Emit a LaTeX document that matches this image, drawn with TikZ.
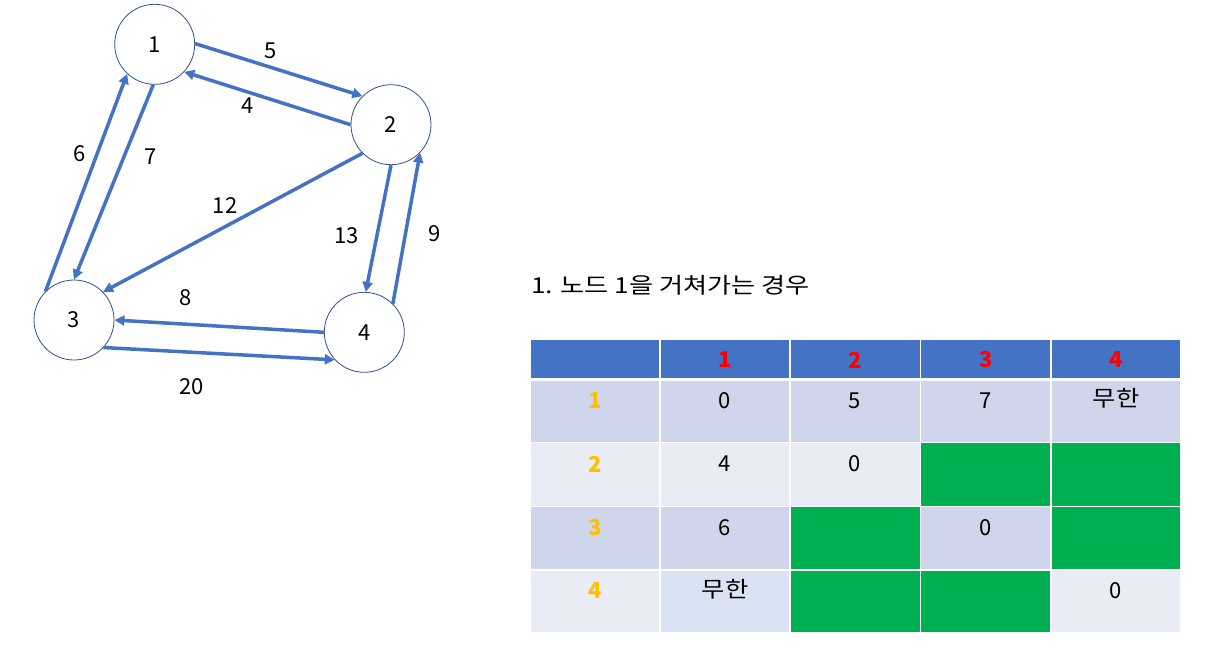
\documentclass[tikz,border=0pt]{standalone}
\usepackage{fontspec}
\setmainfont{Noto Sans CJK KR}
\usetikzlibrary{arrows.meta}
\definecolor{arrowblue}{HTML}{4472C4}
\definecolor{circleblue}{HTML}{2F528F}
\definecolor{hdrblue}{HTML}{4472C4}
\definecolor{rowdark}{HTML}{CFD5EA}
\definecolor{rowlight}{HTML}{E9EBF5}
\definecolor{cellpale}{HTML}{DAE3F3}
\definecolor{cellgreen}{HTML}{00B050}
\definecolor{hdrred}{HTML}{FF0000}
\definecolor{rowgold}{HTML}{FFC000}
\newcommand{\wideko}[1]{\scalebox{1.15}[1]{#1}}
\begin{document}
\begin{tikzpicture}[x=1pt,y=-1pt,
  vertex/.style={circle, draw=circleblue, line width=0.8pt, minimum size=80pt, inner sep=0pt, fill=white, font=\fontsize{22}{26}\selectfont},
  edge/.style={draw=arrowblue, line width=3.5pt, -{Triangle[length=10pt,width=10pt]}},
  wlabel/.style={font=\fontsize{22}{26}\selectfont, inner sep=0pt},
  cellbox/.style={draw=white, line width=1.5pt},
  celltext/.style={font=\fontsize{22}{26}\selectfont, inner sep=0pt},
  hdrtext/.style={font=\fontsize{22}{26}\selectfont\bfseries, text=hdrred, inner sep=0pt},
  rowtext/.style={font=\fontsize{22}{26}\selectfont\bfseries, text=rowgold, inner sep=0pt}
]
\useasboundingbox[fill=white] (0,0) rectangle (1217,653);

% graph
\node[vertex] (n1) at (154.7,44.3) {1};
\node[vertex] (n2) at (391,124.7) {2};
\node[vertex] (n3) at (74,320) {3};
\node[vertex] (n4) at (364.3,332.3) {4};

\draw[edge] (n1.1) -- (n2.135);
\draw[edge] (n2.180) -- (n1.-43);
\draw[edge] (n1.-92) -- (n3.90);
\draw[edge] (n3.135) -- (n1.-133);
\draw[edge] (n2.225) -- (n3.44);
\draw[edge] (n2.-90) -- (n4.88);
\draw[edge] (n4.45) -- (n2.-44);
\draw[edge] (n4.180) -- (n3.0);
\draw[edge] (n3.-43) -- (n4.223);

\node[wlabel] (l5) at (271,51) {5};
\node[wlabel] (l4) at (248,106) {4};
\node[wlabel] (l6) at (80,154) {6};
\node[wlabel] (l7) at (150.7,156.7) {7};
\node[wlabel] (l12) at (225,205.7) {12};
\node[wlabel] (l13) at (346.7,235.7) {13};
\node[wlabel] (l9) at (434.3,234) {9};
\node[wlabel] (l8) at (185.3,297.7) {8};
\node[wlabel] (l20) at (191.7,386.7) {20};

% title
\node[font=\fontsize{22}{26}\selectfont, inner sep=0pt, anchor=west] (title) at (531,285) {\scalebox{1.19}[1]{1. 노드 1을 거쳐가는 경우}};

% table header
\foreach \xa/\xb in {530/660,660/790,790/920.5,920.5/1051,1051/1181}
  \path[cellbox, fill=hdrblue] (\xa,339) rectangle (\xb,378.5);
\draw[white, line width=3pt] (530,379) -- (1181,379);
% rows
\def\ra{380.5}\def\rb{442.5}\def\rc{506.5}\def\rd{570}\def\re{633}
% row 1
\foreach \xa/\xb/\c in {530/660/rowdark,660/790/rowdark,790/920.5/rowdark,920.5/1051/rowdark,1051/1181/rowdark}
  \path[cellbox, fill=\c] (\xa,\ra) rectangle (\xb,\rb);
% row 2
\foreach \xa/\xb/\c in {530/660/rowlight,660/790/rowlight,790/920.5/rowlight,920.5/1051/cellgreen,1051/1181/cellgreen}
  \path[cellbox, fill=\c] (\xa,\rb) rectangle (\xb,\rc);
% row 3
\foreach \xa/\xb/\c in {530/660/rowdark,660/790/rowdark,790/920.5/cellgreen,920.5/1051/rowdark,1051/1181/cellgreen}
  \path[cellbox, fill=\c] (\xa,\rc) rectangle (\xb,\rd);
% row 4
\foreach \xa/\xb/\c in {530/660/rowlight,660/790/cellpale,790/920.5/cellgreen,920.5/1051/cellgreen,1051/1181/rowlight}
  \path[cellbox, fill=\c] (\xa,\rd) rectangle (\xb,\re);

% header text
\node[hdrtext] (h1) at (725,360) {1};
\node[hdrtext] (h2) at (855,360) {2};
\node[hdrtext] (h3) at (985.7,360) {3};
\node[hdrtext] (h4) at (1116,360) {4};
% row headers
\node[rowtext] (r1) at (595,400.5) {1};
\node[rowtext] (r2) at (595,464) {2};
\node[rowtext] (r3) at (595,527.7) {3};
\node[rowtext] (r4) at (595,590.7) {4};
% cells
\node[celltext] (c11) at (725,400.5) {0};
\node[celltext] (c12) at (855,400.5) {5};
\node[celltext] (c13) at (985.7,400.5) {7};
\node[celltext] (c14) at (1116,398.5) {\wideko{무한}};
\node[celltext] (c21) at (725,464) {4};
\node[celltext] (c22) at (855,464) {0};
\node[celltext] (c31) at (725,527.7) {6};
\node[celltext] (c33) at (985.7,527.7) {0};
\node[celltext] (c41) at (725,589) {\wideko{무한}};
\node[celltext] (c44) at (1116,590.7) {0};
\end{tikzpicture}
\end{document}
